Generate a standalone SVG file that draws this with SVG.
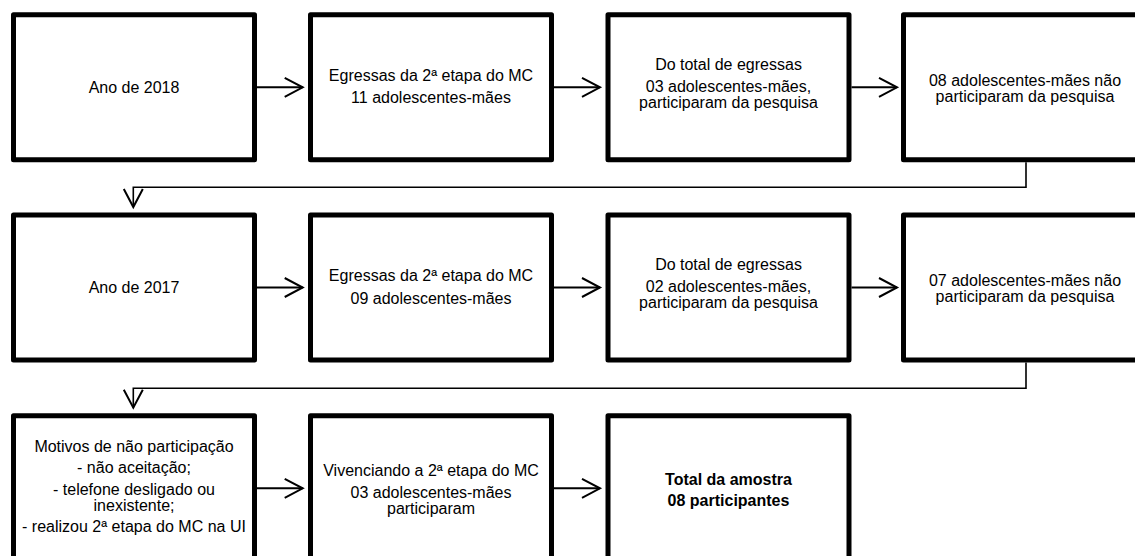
<svg xmlns="http://www.w3.org/2000/svg" width="1135" height="556" viewBox="0 0 1135 556">
<defs>
<style>
.box{fill:#fff;stroke:#000;stroke-width:5;stroke-linejoin:round}
.t{font-family:"Liberation Sans",Arial,sans-serif;font-size:16px;fill:#000;text-anchor:middle}
.b{font-weight:bold}
.arr{fill:none;stroke:#000;stroke-width:2;marker-end:url(#ah)}
.elb{fill:none;stroke:#000;stroke-width:1.6;marker-end:url(#ah)}
</style>
<marker id="ah" markerUnits="userSpaceOnUse" viewBox="-20 -11 22 22" refX="0" refY="0" markerWidth="22" markerHeight="22" orient="auto" overflow="visible">
<path d="M-18,-9.5 L0,0 L-18,9.5" fill="none" stroke="#000" stroke-width="2"/>
</marker>
</defs>
<rect width="1135" height="556" fill="#fff"/>
<g id="connectors">
<line class="arr" x1="256.9" y1="87.3" x2="302.7" y2="87.3"/>
<line class="arr" x1="554" y1="87.3" x2="600" y2="87.3"/>
<line class="arr" x1="851.5" y1="87.3" x2="897" y2="87.3"/>
<path class="elb" d="M1026,162.3 V187.3 H133.3 V207"/>
<line class="arr" x1="256.9" y1="287.5" x2="302.7" y2="287.5"/>
<line class="arr" x1="554" y1="287.5" x2="600" y2="287.5"/>
<line class="arr" x1="851.5" y1="287.5" x2="897" y2="287.5"/>
<path class="elb" d="M1026,362.5 V388.3 H133.3 V407.7"/>
<line class="arr" x1="256.9" y1="488.3" x2="302.7" y2="488.3"/>
<line class="arr" x1="554" y1="488.3" x2="600" y2="488.3"/>
</g>
<g id="n1"><rect class="box" x="13.5" y="14.8" width="241" height="145"/>
<text class="t" x="134" y="92.8">Ano de 2018</text></g>
<g id="n2"><rect class="box" x="310.5" y="14.8" width="241" height="145"/>
<text class="t" x="431" y="80.9">Egressas da 2ª etapa do MC</text>
<text class="t" x="431" y="103.4">11 adolescentes-mães</text></g>
<g id="n3"><rect class="box" x="608" y="14.8" width="241" height="145"/>
<text class="t" x="728.5" y="69.5">Do total de egressas</text>
<text class="t" x="728.5" y="92">03 adolescentes-mães,</text>
<text class="t" x="728.5" y="107.7">participaram da pesquisa</text></g>
<g id="n4"><rect class="box" x="903.5" y="14.8" width="241" height="145"/>
<text class="t" x="1025" y="86">08 adolescentes-mães não</text>
<text class="t" x="1025" y="101.7">participaram da pesquisa</text></g>
<g id="n5"><rect class="box" x="13.5" y="215" width="241" height="145"/>
<text class="t" x="134" y="293">Ano de 2017</text></g>
<g id="n6"><rect class="box" x="310.5" y="215" width="241" height="145"/>
<text class="t" x="431" y="281.1">Egressas da 2ª etapa do MC</text>
<text class="t" x="431" y="303.6">09 adolescentes-mães</text></g>
<g id="n7"><rect class="box" x="608" y="215" width="241" height="145"/>
<text class="t" x="728.5" y="269.7">Do total de egressas</text>
<text class="t" x="728.5" y="292.2">02 adolescentes-mães,</text>
<text class="t" x="728.5" y="307.9">participaram da pesquisa</text></g>
<g id="n8"><rect class="box" x="903.5" y="215" width="241" height="145"/>
<text class="t" x="1025" y="286.2">07 adolescentes-mães não</text>
<text class="t" x="1025" y="301.9">participaram da pesquisa</text></g>
<g id="n9"><rect class="box" x="13.5" y="415.8" width="241" height="145"/>
<text class="t" x="134" y="451.7">Motivos de não participação</text>
<text class="t" x="134" y="473.3">- não aceitação;</text>
<text class="t" x="134" y="495">- telefone desligado ou</text>
<text class="t" x="134" y="510.7">inexistente;</text>
<text class="t" x="134" y="532.3">- realizou 2ª etapa do MC na UI</text></g>
<g id="n10"><rect class="box" x="310.5" y="415.8" width="241" height="145"/>
<text class="t" x="431" y="475.8">Vivenciando a 2ª etapa do MC</text>
<text class="t" x="431" y="498.4">03 adolescentes-mães</text>
<text class="t" x="431" y="514.2">participaram</text></g>
<g id="n11"><rect class="box" x="608" y="415.8" width="241" height="145"/>
<text class="t b" x="728.5" y="484.6">Total da amostra</text>
<text class="t b" x="728.5" y="506.4">08 participantes</text></g>
</svg>
